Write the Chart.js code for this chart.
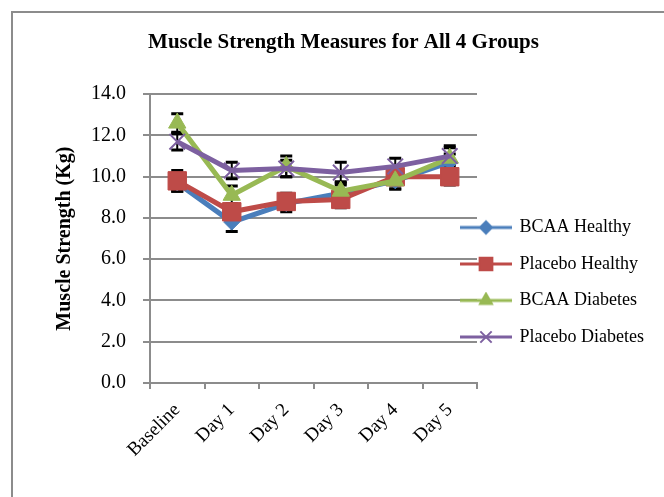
<!DOCTYPE html>
<html lang="en">
<head>
<meta charset="UTF-8">
<title>Muscle Strength Measures for All 4 Groups</title>
<script src="https://cdn.jsdelivr.net/npm/chart.js"></script>
<style>
    body { margin: 0; background: #fff; }
    canvas { display: block; }
</style>
</head>
<body>
<canvas id="grafico" width="664" height="497"></canvas>
<script>
    // categorias e valores
    const dias = ['Baseline', 'Day 1', 'Day 2', 'Day 3', 'Day 4', 'Day 5']
    const bcaaHealthy = [9.7, 7.8, 8.7, 9.2, 9.8, 10.7]
    const placeboHealthy = [9.8, 8.3, 8.8, 8.9, 10.0, 10.0]
    const bcaaDiabetes = [12.6, 9.1, 10.5, 9.3, 9.8, 10.9]
    const placeboDiabetes = [11.7, 10.3, 10.4, 10.2, 10.5, 11.0]

    // barras de erro (+/-)
    const erroBcaaHealthy = [0.4, 0.45, 0.4, 0.4, 0.4, 0.4]
    const erroPlaceboHealthy = [0.5, 0.4, 0.4, 0.4, 0.4, 0.4]
    const erroBcaaDiabetes = [0.45, 0.45, 0.5, 0.45, 0.4, 0.5]
    const erroPlaceboDiabetes = [0.4, 0.4, 0.4, 0.5, 0.4, 0.5]

    const yTicks = [0, 2, 4, 6, 8, 10, 12, 14]

    const fonte = 'Liberation Serif'
    const cinza = '#8c8c8c'

    // icone da legenda: linha com o marcador no meio
    function iconeLegenda(cor, estilo, raio) {
        const c = document.createElement('canvas')
        c.width = 52
        c.height = 18
        const ctx = c.getContext('2d')
        ctx.strokeStyle = cor
        ctx.lineWidth = 3
        ctx.beginPath()
        ctx.moveTo(0, 9)
        ctx.lineTo(52, 9)
        ctx.stroke()
        ctx.fillStyle = cor
        ctx.lineWidth = 2
        Chart.helpers.drawPoint(ctx, { pointStyle: estilo, radius: raio, borderWidth: 2 }, 26, 9)
        return c
    }

    // ordem: a ultima serie fica por cima (como no Excel)
    const series = [
        { label: 'BCAA Healthy', data: bcaaHealthy, erro: erroBcaaHealthy, cor: '#4a7ebb', estilo: 'rectRot', raio: 8, leg: 6, ordem: 4 },
        { label: 'Placebo Healthy', data: placeboHealthy, erro: erroPlaceboHealthy, cor: '#be4b48', estilo: 'rect', raio: 13, leg: 9, ordem: 3 },
        { label: 'BCAA Diabetes', data: bcaaDiabetes, erro: erroBcaaDiabetes, cor: '#98b954', estilo: 'triangle', raio: 10, leg: 7, ordem: 2 },
        { label: 'Placebo Diabetes', data: placeboDiabetes, erro: erroPlaceboDiabetes, cor: '#7d60a0', estilo: 'crossRot', raio: 11, leg: 8, ordem: 1 }
    ]

    const datasets = series.map(s => ({
        label: s.label,
        data: s.data,
        erro: s.erro,
        order: s.ordem,
        borderColor: s.cor,
        backgroundColor: s.cor,
        borderWidth: 5,
        pointStyle: s.estilo,
        pointRadius: s.raio,
        pointBorderWidth: s.estilo == 'crossRot' ? 2 : 1,
        pointBackgroundColor: s.cor,
        pointBorderColor: s.cor,
        tension: 0
    }))

    const legendaIcones = {}
    series.forEach(s => {
        legendaIcones[s.label] = iconeLegenda(s.cor, s.estilo, s.leg)
    })

    // moldura cinza do grafico (como no Excel)
    const moldura = {
        id: 'moldura',
        beforeDraw(chart) {
            const ctx = chart.ctx
            ctx.save()
            ctx.strokeStyle = cinza
            ctx.lineWidth = 2
            ctx.beginPath()
            ctx.moveTo(12, 497)
            ctx.lineTo(12, 12)
            ctx.lineTo(664, 12)
            ctx.stroke()
            ctx.restore()
        }
    }

    // barras de erro pretas (ficam atras das linhas)
    const barrasErro = {
        id: 'barrasErro',
        beforeDatasetsDraw(chart) {
            const ctx = chart.ctx
            const y = chart.scales.y
            ctx.save()
            ctx.strokeStyle = '#000'
            chart.data.datasets.forEach((ds, i) => {
                const meta = chart.getDatasetMeta(i)
                meta.data.forEach((p, j) => {
                    const topo = y.getPixelForValue(ds.data[j] + ds.erro[j])
                    const base = y.getPixelForValue(ds.data[j] - ds.erro[j])
                    ctx.lineWidth = 2
                    ctx.beginPath()
                    ctx.moveTo(p.x, topo)
                    ctx.lineTo(p.x, base)
                    ctx.stroke()
                    ctx.lineWidth = 3
                    ctx.beginPath()
                    ctx.moveTo(p.x - 6, topo)
                    ctx.lineTo(p.x + 6, topo)
                    ctx.moveTo(p.x - 6, base)
                    ctx.lineTo(p.x + 6, base)
                    ctx.stroke()
                })
            })
            ctx.restore()
        }
    }

    // posiciona a legenda ao lado, encostando nas linhas de grade
    const posLegenda = {
        id: 'posLegenda',
        afterLayout(chart) {
            const leg = chart.legend
            const h = leg.height
            leg.left = 443
            leg.width = 221
            leg.right = leg.left + leg.width
            leg.top = 200
            leg.bottom = leg.top + h
        }
    }

    new Chart(document.getElementById('grafico'), {
        type: 'line',
        data: { labels: dias, datasets: datasets },
        plugins: [moldura, barrasErro, posLegenda],
        options: {
            responsive: false,
            animation: false,
            layout: { padding: { left: 23, right: 0, top: 0, bottom: 0 } },
            plugins: {
                title: {
                    display: true,
                    text: 'Muscle Strength Measures for All 4 Groups',
                    color: '#000',
                    font: { family: fonte, size: 21, weight: 'bold' },
                    padding: { top: 30, bottom: 39 }
                },
                legend: {
                    position: 'right',
                    align: 'start',
                    maxWidth: 187,
                    labels: {
                        color: '#000',
                        font: { family: fonte, size: 18 },
                        padding: 18.5,
                        usePointStyle: true,
                        pointStyleWidth: 49,
                        generateLabels(chart) {
                            return chart.data.datasets.map((ds, i) => ({
                                text: ds.label,
                                pointStyle: legendaIcones[ds.label],
                                fillStyle: ds.borderColor,
                                strokeStyle: ds.borderColor,
                                lineWidth: 0,
                                fontColor: '#000',
                                datasetIndex: i
                            }))
                        }
                    }
                },
                tooltip: { enabled: false }
            },
            scales: {
                x: {
                    offset: true,
                    grid: {
                        offset: true,
                        drawOnChartArea: false,
                        drawTicks: true,
                        tickLength: 6,
                        color: cinza,
                        lineWidth: 2
                    },
                    border: { color: cinza, width: 2 },
                    ticks: {
                        color: '#000',
                        font: { family: fonte, size: 19 },
                        minRotation: 45,
                        maxRotation: 45,
                        padding: 10
                    },
                    afterFit(scale) { scale.height = 114 }
                },
                y: {
                    min: 0,
                    max: 14,
                    afterBuildTicks(scale) {
                        scale.ticks = yTicks.map(v => ({ value: v }))
                    },
                    grid: {
                        color: cinza,
                        lineWidth: 2,
                        drawTicks: true,
                        tickLength: 7
                    },
                    border: { color: cinza, width: 2 },
                    ticks: {
                        color: '#000',
                        font: { family: fonte, size: 20 },
                        padding: 17,
                        callback: v => v.toFixed(1)
                    },
                    title: {
                        display: true,
                        text: 'Muscle Strength (Kg)',
                        color: '#000',
                        font: { family: fonte, size: 20, weight: 'bold' },
                        padding: { top: 30 }
                    },
                    afterFit(scale) { scale.width = 127 }
                }
            }
        }
    })
</script>
</body>
</html>
